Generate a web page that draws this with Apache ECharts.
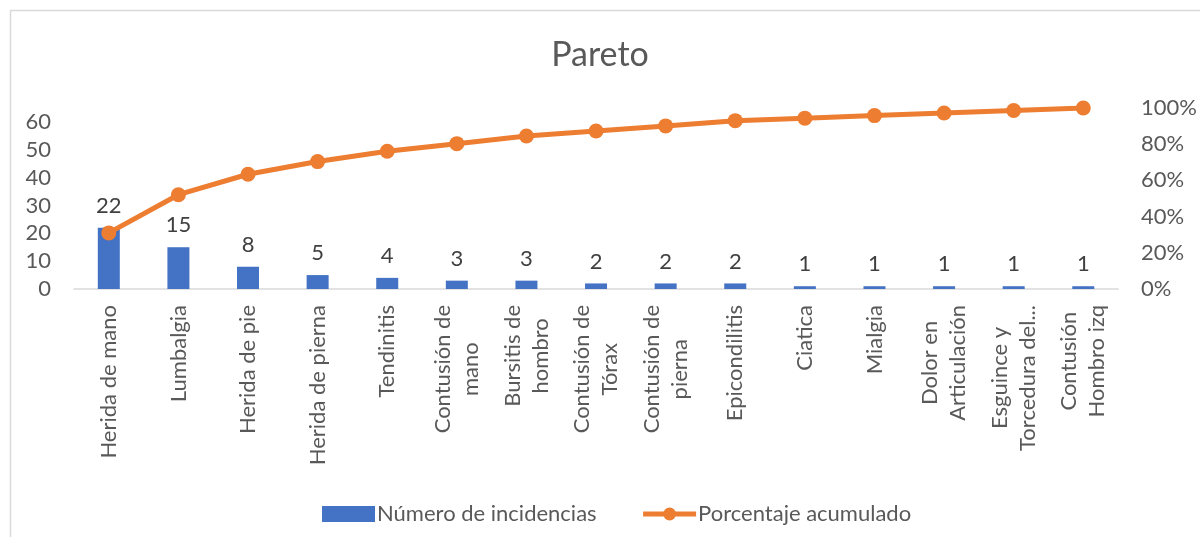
<!DOCTYPE html>
<html>
<head>
<meta charset="utf-8">
<script src="https://cdn.jsdelivr.net/npm/echarts@6/dist/echarts.min.js"></script>
<style>html,body{margin:0;padding:0;background:#fff}#c{width:1200px;height:537px}</style>
</head>
<body>
<div id="c"></div>
<script>
const categories = ["Herida de mano","Lumbalgia","Herida de pie","Herida de pierna","Tendinitis","Contusión de\nmano","Bursitis de\nhombro","Contusión de\nTórax","Contusión de\npierna","Epicondilitis","Ciatica","Mialgia","Dolor en\nArticulación","Esguince y\nTorcedura del...","Contusión\nHombro izq"];
const incidencias = [22,15,8,5,4,3,3,2,2,2,1,1,1,1,1];
const acumulado = [31.0,52.1,63.4,70.4,76.1,80.3,84.5,87.3,90.1,93.0,94.4,95.8,97.2,98.6,100];
const leftTicks = [0,10,20,30,40,50,60];
const rightTicks = [0,20,40,60,80,100];

const FONT = 'Lato';
const GREY = '#595959';
const FS = 22;
const chart = echarts.init(document.getElementById('c'));
chart.setOption({
  animation:false,
  textStyle:{fontFamily:FONT},
  graphic:[{type:'rect',shape:{x:10.5,y:10.5,width:1300,height:700},style:{fill:'none',stroke:'#d9d9d9',lineWidth:1.5},silent:true}],
  title:{text:'Pareto',left:'center',top:33,textStyle:{fontFamily:FONT,fontSize:34,fontWeight:'normal',color:GREY}},
  legend:{
    left:317, top:498, itemGap:44, itemWidth:53, itemHeight:16,
    textStyle:{fontFamily:FONT,fontSize:FS,color:GREY,padding:[0,0,0,-3]},
    data:[{name:'Número de incidencias',icon:'rect'},{name:'Porcentaje acumulado',lineStyle:{width:5}}]
  },
  grid:{left:74,right:80,top:108,bottom:248,containLabel:false},
  xAxis:{
    type:'category', data:categories,
    axisLine:{lineStyle:{color:'#d9d9d9',width:1.5}},
    axisTick:{show:false},
    axisLabel:{
      rotate:90, interval:0, margin:16, color:GREY, fontFamily:FONT, fontSize:FS, lineHeight:28,
      formatter:function(v){return v.split('\n').map(function(s){return '{c|'+s+'}';}).join('\n');},
      rich:{c:{align:'center',fontFamily:FONT,fontSize:FS,color:GREY,lineHeight:28}}
    }
  },
  yAxis:[
    {type:'value',min:0,max:65,interval:10,
     splitLine:{show:false},axisLine:{show:false},axisTick:{show:false},
     axisLabel:{margin:23,color:GREY,fontFamily:FONT,fontSize:FS,
       formatter:function(v){return leftTicks.indexOf(v)>=0?String(v):'';}}},
    {type:'value',min:0,max:100,interval:20,
     splitLine:{show:false},axisLine:{show:false},axisTick:{show:false},
     axisLabel:{margin:23,color:GREY,fontFamily:FONT,fontSize:FS,
       formatter:function(v){return rightTicks.indexOf(v)>=0?v+'%':'';}}}
  ],
  series:[
    {name:'Número de incidencias',type:'bar',data:incidencias,barWidth:22,
     itemStyle:{color:'#4472C4'},
     label:{show:true,position:'top',distance:11,color:'#404040',fontFamily:FONT,fontSize:FS}},
    {name:'Porcentaje acumulado',type:'line',yAxisIndex:1,data:acumulado,
     symbol:'circle',symbolSize:15,
     lineStyle:{color:'#ED7D31',width:5},
     itemStyle:{color:'#ED7D31'}}
  ]
});
</script>
</body>
</html>
